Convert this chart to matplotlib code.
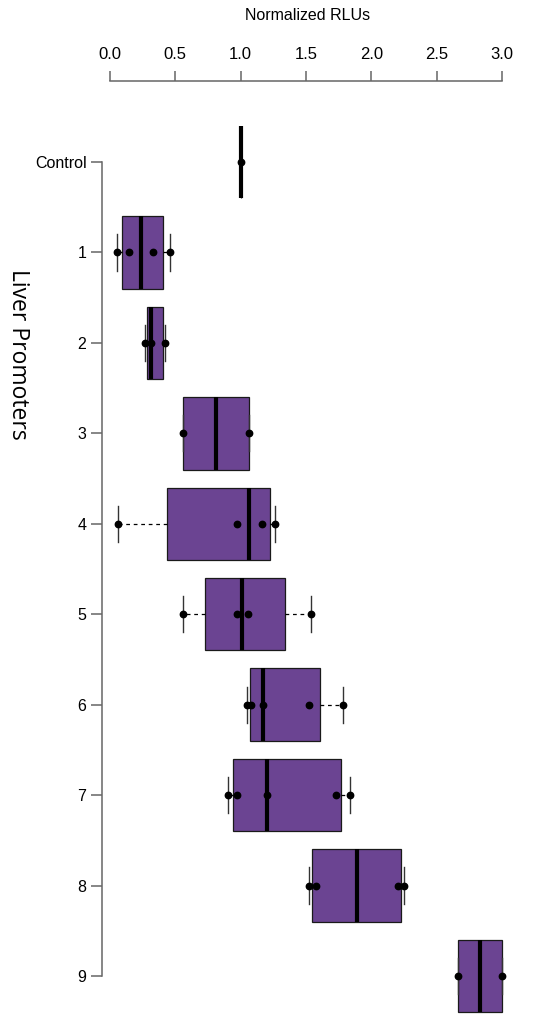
import numpy as np
import matplotlib
matplotlib.use("Agg")
import matplotlib.pyplot as plt

# groups, top to bottom
labels = ["Control", "1", "2", "3", "4", "5", "6", "7", "8", "9"]

# box statistics (Normalized RLUs)
q1 = [1.0, 0.092, 0.281, 0.561, 0.438, 0.729, 1.069, 0.943, 1.548, 2.660]
med = [1.0, 0.240, 0.310, 0.813, 1.066, 1.012, 1.171, 1.201, 1.890, 2.833]
q3 = [1.0, 0.406, 0.406, 1.064, 1.224, 1.339, 1.609, 1.767, 2.229, 3.002]
whislo = [1.0, 0.056, 0.270, 0.561, 0.059, 0.559, 1.046, 0.900, 1.525, 2.660]
whishi = [1.0, 0.459, 0.421, 1.064, 1.265, 1.540, 1.785, 1.836, 2.247, 3.002]

# individual replicate points
points = [
    [1.0],
    [0.056, 0.145, 0.327, 0.459],
    [0.270, 0.312, 0.421],
    [0.561, 1.064],
    [0.059, 0.969, 1.165, 1.265],
    [0.559, 0.972, 1.058, 1.540],
    [1.046, 1.081, 1.171, 1.523, 1.785],
    [0.900, 0.972, 1.201, 1.731, 1.836],
    [1.525, 1.576, 2.201, 2.247],
    [2.660, 3.002],
]

xticks = [0.0, 0.5, 1.0, 1.5, 2.0, 2.5, 3.0]

plt.rcParams['font.family'] = ['Liberation Sans', 'DejaVu Sans']

W, H = 539, 1029
fig = plt.figure(figsize=(W / 100, H / 100), dpi=100)
left, right, top, bottom = 102, 520, 81, 1020
ax = fig.add_axes([left / W, 1 - bottom / H, (right - left) / W, (bottom - top) / H])

pos = np.arange(len(labels))
stats = []
for i in range(len(labels)):
    stats.append(dict(q1=q1[i], med=med[i], q3=q3[i],
                      whislo=whislo[i], whishi=whishi[i], fliers=[]))

purple = '#6b4492'
ax.bxp(stats, positions=pos, widths=0.8, vert=False, patch_artist=True,
       capwidths=0.4, showfliers=False,
       boxprops=dict(facecolor=purple, edgecolor='#1a1a1a', linewidth=0.9),
       medianprops=dict(color='black', linewidth=3.0, solid_capstyle='butt'),
       whiskerprops=dict(color='black', linewidth=0.9, linestyle=(0, (3, 3))),
       capprops=dict(color='#333333', linewidth=1.0))

for i, pts in enumerate(points):
    ax.plot(pts, [pos[i]] * len(pts), 'o', color='black', markersize=4.6,
            zorder=5)

# scale: 0 -> px 110, 3 -> px 502 ; Control -> px 162, 9 -> px 976
scale = (502 - 110) / 3.0
ax.set_xlim((left - 110) / scale, (right - 110) / scale)
ys = (976 - 162) / 9.0
ax.set_ylim((bottom - 162) / ys, (top - 162) / ys)

ax.xaxis.tick_top()
ax.set_xticks(xticks)
ax.set_xticklabels([f"{t:.1f}" for t in xticks])
ax.set_yticks(pos)
ax.set_yticklabels(labels)

for s in ['right', 'bottom']:
    ax.spines[s].set_visible(False)
ax.spines['top'].set_bounds(0, 3)
ax.spines['left'].set_bounds(0, 9)
for s in ['top', 'left']:
    ax.spines[s].set_color('#666666')
    ax.spines[s].set_linewidth(1.1)

ax.tick_params(axis='x', length=7.2, width=1.1, color='#666666', pad=6.5,
               labelsize=12)
ax.tick_params(axis='y', length=7.7, width=1.1, color='#666666', pad=3.5,
               labelsize=11.5)

ax.xaxis.set_label_position('top')
ax.set_xlabel('Normalized RLUs', fontsize=11.5, va='center', ha='center')
ax.xaxis.set_label_coords((308 - left) / (right - left),
                          (bottom - 15) / (bottom - top))
ax.set_ylabel('Liver Promoters', fontsize=16.5, rotation=270,
              family=['Open Sans', 'DejaVu Sans'], va='center', ha='center')
ax.yaxis.set_label_coords((18 - left) / (right - left),
                          (bottom - 354) / (bottom - top))

fig.savefig('out.png', dpi=100)
